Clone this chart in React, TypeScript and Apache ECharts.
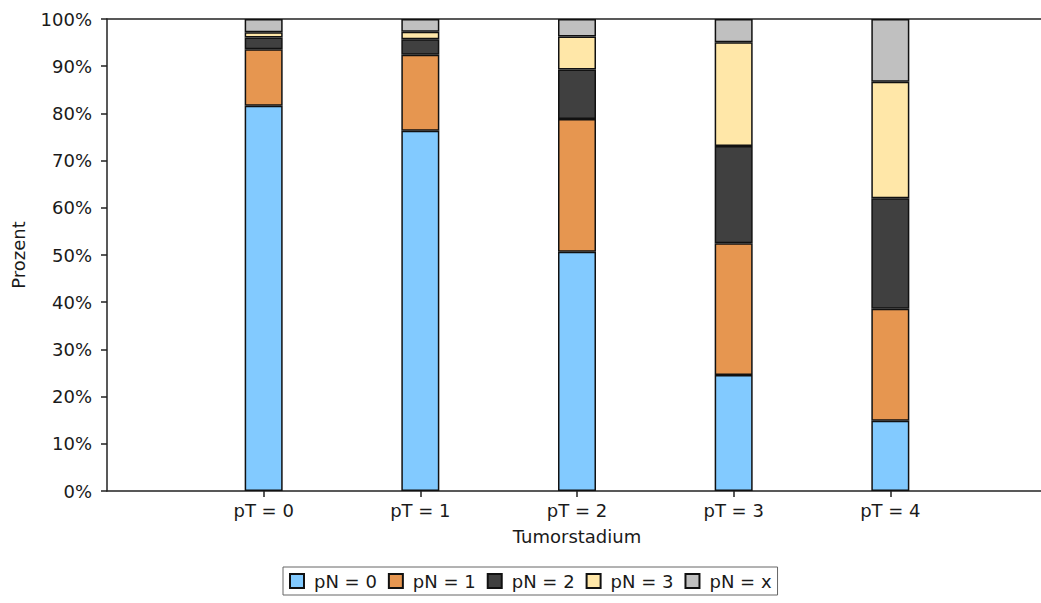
import React, { useEffect, useRef } from "react";
import * as echarts from "echarts";

const categories = ["pT = 0", "pT = 1", "pT = 2", "pT = 3", "pT = 4"];
const seriesNames = ["pN = 0", "pN = 1", "pN = 2", "pN = 3", "pN = x"];
const pN0 = [81.6, 76.3, 50.7, 24.6, 14.9];
const pN1 = [12.0, 16.1, 28.1, 27.9, 23.7];
const pN2 = [2.5, 3.3, 10.5, 20.6, 23.4];
const pN3 = [1.1, 1.6, 7.0, 22.0, 24.7];
const pNx = [2.8, 2.7, 3.7, 4.9, 13.3];
const colors = ["#82CAFF", "#E69650", "#404040", "#FFE7A8", "#C0C0C0"];

const FONT = "DejaVu Sans";
const TEXT = "#1a1a1a";
const LINE = "#222222";

export default function App() {
  const ref = useRef<HTMLDivElement>(null);
  useEffect(() => {
    if (!ref.current) return;
    const chart = echarts.init(ref.current, undefined, { renderer: "svg" });
    // axis slots: an empty slot before and after the five stages
    const axisCats = ["", ...categories, ""];
    const all = [pN0, pN1, pN2, pN3, pNx];
    const series = all.map((vals, si) => ({
      name: seriesNames[si],
      type: "bar",
      stack: "total",
      xAxisIndex: 0,
      barWidth: 38,
      data: ["-", ...vals, "-"],
      itemStyle: { color: colors[si], borderColor: "#111", borderWidth: 1.5 },
    }));
    const isEdge = (i: number) => i === 0 || i === axisCats.length - 1;
    chart.setOption({
      animation: false,
      textStyle: { fontFamily: FONT },
      grid: {
        left: 107,
        top: 19,
        width: 940,
        bottom: 112,
        containLabel: false,
        outerBoundsMode: "none",
      },
      legend: {
        data: seriesNames,
        left: 283,
        top: 567,
        orient: "horizontal",
        itemWidth: 14,
        itemHeight: 14,
        itemGap: 11,
        padding: [5, 6, 5, 6],
        borderColor: "#666",
        borderWidth: 1,
        icon: "rect",
        textStyle: { fontFamily: FONT, fontSize: 18, color: TEXT, padding: [0, 0, 0, 5] },
      },
      xAxis: [
        {
          type: "category",
          data: axisCats,
          boundaryGap: false,
          name: "Tumorstadium",
          nameLocation: "middle",
          nameGap: 36,
          nameTextStyle: { fontFamily: FONT, fontSize: 18, color: TEXT },
          axisLine: { show: true, lineStyle: { color: LINE, width: 1.5 } },
          axisTick: {
            show: true,
            length: 6,
            interval: (i: number) => !isEdge(i),
            lineStyle: { color: LINE, width: 1.5 },
          },
          axisLabel: {
            interval: 0,
            fontFamily: FONT,
            fontSize: 18,
            color: TEXT,
            margin: 10,
          },
          splitLine: { show: false },
        },
        {
          type: "value",
          position: "top",
          min: 0,
          max: 1,
          axisLine: { show: true, onZero: false, lineStyle: { color: LINE, width: 1.5 } },
          axisTick: { show: false },
          axisLabel: { show: false },
          splitLine: { show: false },
        },
      ],
      yAxis: {
        type: "value",
        min: 0,
        max: 100,
        interval: 10,
        name: "Prozent",
        nameLocation: "middle",
        nameGap: 80,
        nameTextStyle: { fontFamily: FONT, fontSize: 18, color: TEXT },
        axisLine: { show: true, lineStyle: { color: LINE, width: 1.5 } },
        axisTick: { show: true, length: 6, lineStyle: { color: LINE, width: 1.5 } },
        axisLabel: {
          formatter: "{value}%",
          fontFamily: FONT,
          fontSize: 18,
          color: TEXT,
          margin: 15,
        },
        splitLine: { show: false },
      },
      series,
    });
    return () => chart.dispose();
  }, []);
  return <div ref={ref} style={{ width: 1041, height: 603, position: "absolute", left: 0, top: 0 }} />;
}
